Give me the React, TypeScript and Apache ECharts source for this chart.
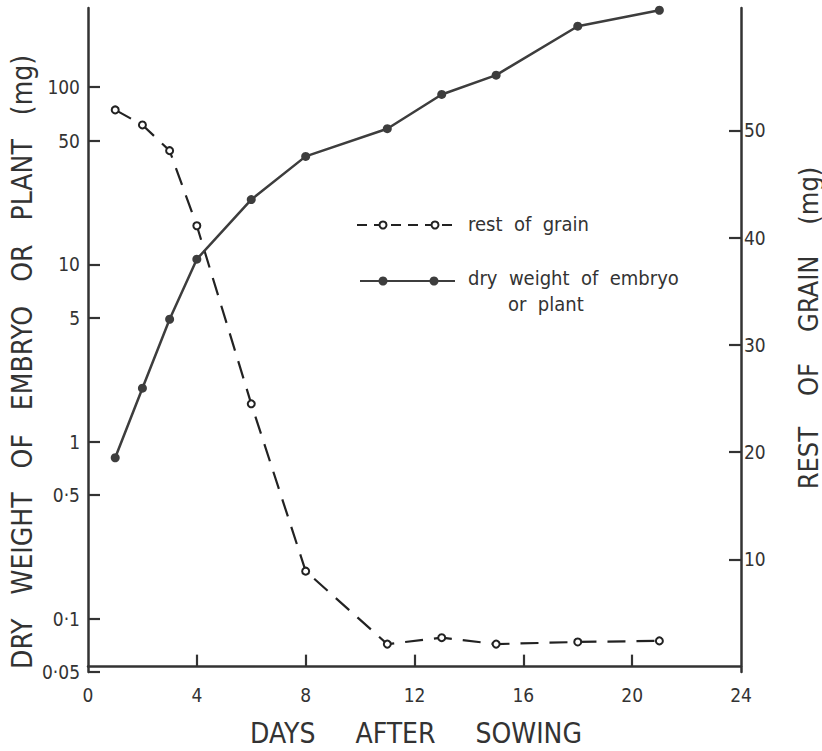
import React, { useEffect, useRef } from "react";
import * as echarts from "echarts";

const days = [1, 2, 3, 4, 6, 8, 11, 13, 15, 18, 21];
const dryWeight = [0.81, 2.0, 4.9, 10.7, 23.2, 40.7, 58.3, 91, 117, 221, 272];
const restOfGrain = [51.9, 50.5, 48.1, 41.1, 24.5, 8.9, 2.1, 2.7, 2.1, 2.3, 2.4];
const leftTicks = [0.05, 0.1, 0.5, 1, 5, 10, 50, 100];
const rightTicks = [10, 20, 30, 40, 50];
const xTicks = [0, 4, 8, 12, 16, 20, 24];

const X_MIN = 0;
const X_MAX = 24;
const L_MIN = 0.05;
const L_MAX = 280;
const R_MIN = -0.5;
const R_MAX = 61.4;

const FONT = "'DejaVu Sans Condensed', 'Liberation Sans Narrow', Roboto, sans-serif";
const INK = "#333";
const gap = (n: number) => Array.from({ length: n }, (_, i) => (i % 2 ? " " : "\u00A0")).join("");

const GRID = { left: 88, right: 81, top: 8, bottom: 79 };
const W = 822;
const H = 751;
const TICK = 12;

export default function App() {
  const ref = useRef<HTMLDivElement>(null);
  useEffect(() => {
    document.body.style.margin = "0";
    const chart = echarts.init(ref.current!, null, { renderer: "svg" });
    const axisCommon = {
      axisLine: { show: true, lineStyle: { color: INK, width: 2.5 } },
      splitLine: { show: false },
    };
    const tick = (values: number[]) => ({
      show: true,
      inside: true,
      length: TICK,
      lineStyle: { color: INK, width: 2.2 },
      customValues: values,
    });
    const label = { color: INK, fontFamily: FONT, fontSize: 19 };
    const legendFont = `20px ${FONT}`;
    chart.setOption({
      animation: false,
      backgroundColor: "#fff",
      grid: GRID,
      xAxis: {
        type: "value",
        min: X_MIN,
        max: X_MAX,
        interval: 4,
        ...axisCommon,
        axisTick: tick(xTicks.slice(1, -1)),
        axisLabel: { ...label, margin: 13, customValues: xTicks },
      },
      yAxis: [
        {
          type: "log",
          logBase: 10,
          min: L_MIN,
          max: L_MAX,
          position: "left",
          ...axisCommon,
          axisTick: tick(leftTicks),
          axisLabel: {
            ...label,
            margin: 8,
            customValues: leftTicks,
            formatter: (v: number) => String(v).replace(".", "·"),
          },
        },
        {
          type: "value",
          min: R_MIN,
          max: R_MAX,
          position: "right",
          ...axisCommon,
          axisTick: tick(rightTicks),
          axisLabel: { ...label, margin: 3, customValues: rightTicks },
        },
      ],
      series: [
        {
          name: "dry weight of embryo or plant",
          type: "line",
          yAxisIndex: 0,
          data: days.map((d, i) => [d, dryWeight[i]]),
          symbol: "circle",
          symbolSize: 9,
          itemStyle: { color: "#3d3d3d" },
          lineStyle: { color: "#3d3d3d", width: 2.5 },
          z: 3,
        },
        {
          name: "rest of grain",
          type: "line",
          yAxisIndex: 1,
          data: days.map((d, i) => [d, restOfGrain[i]]),
          symbol: "emptyCircle",
          symbolSize: 7,
          itemStyle: { color: "#222", borderWidth: 2 },
          lineStyle: { color: "#222", width: 2.2, type: [18, 11] },
          z: 2,
        },
      ],
      graphic: [
        { type: "line", shape: { x1: 357, y1: 225, x2: 458, y2: 225 }, style: { stroke: "#222", lineWidth: 2, lineDash: [10, 7] } },
        { type: "circle", shape: { cx: 383, cy: 225, r: 3.5 }, style: { fill: "#fff", stroke: "#222", lineWidth: 2 } },
        { type: "circle", shape: { cx: 435, cy: 225, r: 3.5 }, style: { fill: "#fff", stroke: "#222", lineWidth: 2 } },
        { type: "text", x: 468, y: 224, style: { text: "rest  of  grain", font: legendFont, fill: INK, verticalAlign: "middle" } },
        { type: "line", shape: { x1: 360, y1: 281, x2: 455, y2: 281 }, style: { stroke: "#3d3d3d", lineWidth: 2 } },
        { type: "circle", shape: { cx: 383, cy: 281, r: 4.5 }, style: { fill: "#3d3d3d" } },
        { type: "circle", shape: { cx: 434, cy: 281, r: 4.5 }, style: { fill: "#3d3d3d" } },
        { type: "text", x: 468, y: 278, style: { text: "dry  weight  of  embryo", font: legendFont, fill: INK, verticalAlign: "middle" } },
        { type: "text", x: 508, y: 304, style: { text: "or  plant", font: legendFont, fill: INK, verticalAlign: "middle" } },
        {
          type: "text", x: 416, y: 733,
          style: { text: `DAYS${gap(5)}AFTER${gap(5)}SOWING`, font: `28px ${FONT}`, fill: INK, align: "center", verticalAlign: "middle" },
        },
        {
          type: "text", x: 22, y: 362, rotation: Math.PI / 2,
          style: {
            text: `DRY${gap(3)}WEIGHT${gap(3)}OF${gap(3)}EMBRYO${gap(3)}OR${gap(3)}PLANT${gap(3)}(mg)`,
            font: `28px ${FONT}`, fill: INK, align: "center", verticalAlign: "middle",
          },
        },
        {
          type: "text", x: 808, y: 328, rotation: Math.PI / 2,
          style: { text: `REST${gap(4)}OF${gap(4)}GRAIN${gap(4)}(mg)`, font: `27px ${FONT}`, fill: INK, align: "center", verticalAlign: "middle" },
        },
      ],
    });
    return () => chart.dispose();
  }, []);
  return <div ref={ref} style={{ width: W, height: H }} />;
}
